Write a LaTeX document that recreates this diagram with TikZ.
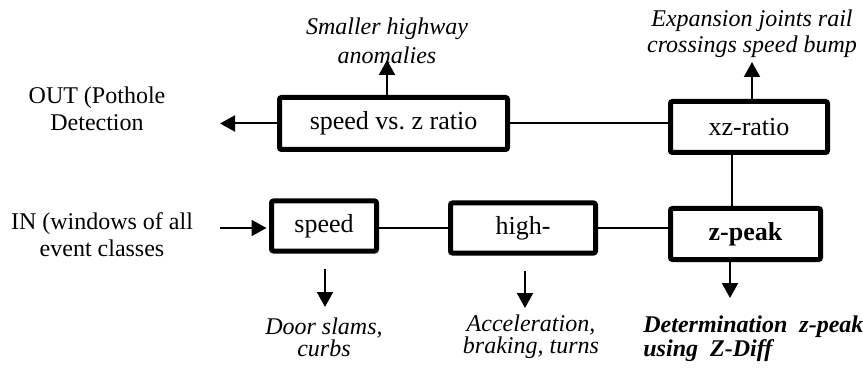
\documentclass[tikz,border=0pt]{standalone}
\usepackage{fontspec}
\setmainfont{Liberation Serif}[
    ItalicFont={Liberation Serif Italic},
    BoldFont={Liberation Serif Bold},
    BoldItalicFont={Liberation Serif Bold Italic}]
\usetikzlibrary{arrows.meta}

\begin{document}
\begin{tikzpicture}[x=0.5pt, y=-0.5pt, inner sep=1pt, font=\fontsize{12pt}{13.5pt}\selectfont,
    box/.style={draw, line width=2.5pt, rounded corners=1pt, font=\fontsize{13pt}{15pt}\selectfont},
    lbl/.style={align=center, font=\fontsize{12pt}{13.5pt}\selectfont\itshape},
    arr/.style={line width=1pt, -{Triangle[length=7.5pt, width=8pt]}},
    link/.style={line width=1pt}]
    \useasboundingbox (0,0) rectangle (863,369);
    % boxes
    \node[box, minimum width=114pt, minimum height=26pt] (svz) at (393.5,123.5) {speed vs.\ z ratio};
    \node[box, minimum width=78.5pt, minimum height=25.5pt] (xz) at (749,127) {xz-ratio};
    \node[box, minimum width=52.5pt, minimum height=25pt] (speed) at (324,226) {speed};
    \node[box, minimum width=72.5pt, minimum height=25pt] (high) at (523,228) {high-};
    \node[box, minimum width=75pt, minimum height=25.5pt, font=\fontsize{13pt}{15pt}\selectfont\bfseries] (zpk) at (745.5,234) {z-peak};
    % labels
    \node[lbl, font=\fontsize{12pt}{13.5pt}\selectfont] (outlbl) at (97,109) {OUT (Pothole\\Detection};
    \node[lbl, font=\fontsize{12pt}{13.5pt}\selectfont] (inlbl) at (102,235) {IN (windows of all\\event classes};
    \node[lbl, font=\fontsize{12pt}{14.5pt}\selectfont\itshape] (smlbl) at (387,41) {Smaller highway\\anomalies};
    \node[lbl, font=\fontsize{12pt}{13pt}\selectfont\itshape] (explbl) at (752,34) {Expansion joints rail\\crossings speed bump};
    \node[lbl, font=\fontsize{12pt}{10pt}\selectfont\itshape] (doorlbl) at (324,337) {Door slams,\\curbs};
    \node[lbl, font=\fontsize{12pt}{10pt}\selectfont\itshape] (acclbl) at (531,337) {Acceleration,\\braking, turns};
    \node[lbl, align=left, anchor=west, font=\fontsize{12pt}{10pt}\selectfont\bfseries\itshape] (detlbl) at (641,339) {Determination~ z-peak\\using~ Z-Diff};
    % arrow ends
    \coordinate (outtip) at (220,123.5);
    \coordinate (insrc) at (220,228);
    \coordinate (smtip) at (387,60);
    \coordinate (exptip) at (752,62);
    \coordinate (doortip) at (325,307);
    \coordinate (acctip) at (525,308);
    \coordinate (dettip) at (730,298);
    \coordinate (vtop) at ([xshift=-8.5pt]xz.south);
    % connectors
    \draw[arr] (svz.west) -- (outtip);
    \draw[link] (svz.east) -- (svz.east -| xz.west);
    \draw[link] (vtop) -- (vtop |- zpk.north);
    \draw[arr, shorten >=1.25pt] (insrc) -- (insrc -| speed.west);
    \draw[link] (speed.east |- high.west) -- (high.west);
    \draw[link] (high.east) -- (high.east -| zpk.west);
    \draw[arr] (svz.north -| smtip) -- (smtip);
    \draw[arr] (xz.north -| exptip) -- (exptip);
    \draw[arr, shorten <=7.5pt] (speed.south -| doortip) -- (doortip);
    \draw[arr, shorten <=7.5pt] (high.south -| acctip) -- (acctip);
    \draw[arr] (zpk.south -| dettip) -- (dettip);
\end{tikzpicture}
\end{document}
